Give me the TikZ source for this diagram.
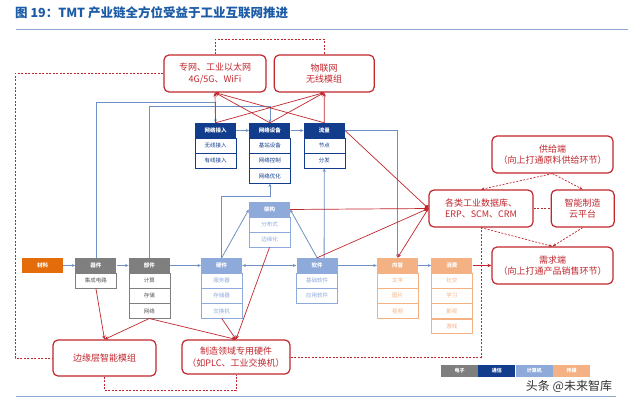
\documentclass[tikz,border=0pt]{standalone}
\usepackage{fontspec}
\setmainfont{Noto Sans CJK SC}
\usetikzlibrary{arrows.meta,positioning}
\definecolor{rd}{HTML}{C1272D}
\definecolor{nv}{HTML}{123C8C}
\definecolor{gy}{HTML}{7F7F7F}
\definecolor{lb}{HTML}{8EAADB}
\definecolor{lo}{HTML}{F4B183}
\definecolor{og}{HTML}{E46C0A}
\definecolor{ln}{HTML}{6F90C3}
\definecolor{tt}{HTML}{1C5BA6}
\definecolor{rl}{HTML}{8EA9D0}
\tikzset{
  hd/.style={minimum width=41pt,minimum height=15pt,inner sep=0pt,text=white,font=\fontsize{5.5}{6}\selectfont\bfseries},
  cel/.style={draw,fill=white,line width=0.6pt,minimum width=41pt,minimum height=14.5pt,inner sep=0pt,font=\fontsize{5.5}{6}\selectfont},
  gcel/.style={cel,draw=gy,text=gy!70!black},
  ncel/.style={cel,draw=nv,text=nv},
  bcel/.style={cel,draw=lb,text=lb},
  ocel/.style={cel,draw=lo,text=lo},
  rbox/.style={draw=rd,line width=1.2pt,rounded corners=5pt,fill=white,align=center,text=rd,inner sep=1pt,font=\fontsize{9}{11.5}\selectfont},
  ar/.style={-{Stealth[length=3.5pt,width=3pt]},draw=ln,line width=0.8pt},
  rar/.style={-{Stealth[length=4pt,width=3.5pt]},draw=rd,line width=0.7pt},
  rdot/.style={-{Circle[length=4.5pt]},draw=rd,line width=0.7pt},
  dsh/.style={draw=rd,dash pattern=on 2pt off 1.5pt,line width=0.7pt},
  lg/.style={minimum width=37pt,minimum height=12pt,inner sep=0pt,text=white,font=\fontsize{5}{6}\selectfont\bfseries},
}

\begin{document}
\begin{tikzpicture}[x=1pt,y=-1pt]
\fill[white] (0,0) rectangle (640,404);
\useasboundingbox (0,0) rectangle (640,404);
% title
\node[anchor=west,inner sep=0pt,text=tt,font=\fontsize{12.5}{14}\selectfont\bfseries] (ttl) at (15,13) {图 19：TMT 产业链全方位受益于工业互联网推进};
\draw[rl,line width=1pt] (16,29.5) -- (628,29.5);
\draw[rl,line width=1pt] (16,396) -- (616,396);

% main chain
\node[hd,fill=og] (cl) at (42.5,265.5) {材料};
\node[hd,fill=gy,right=12pt of cl] (qj) {器件};
\node[gcel,below=0pt of qj] (qj1) {集成电路};
\node[hd,fill=gy,right=12pt of qj] (bj) {部件};
\node[gcel,below=0pt of bj] (bj1) {计算};
\node[gcel,below=0pt of bj1] (bj2) {存储};
\node[gcel,below=0pt of bj2] (bj3) {网络};
\node[hd,fill=lb,right=31pt of bj] (yj) {硬件};
\node[bcel,below=0pt of yj] (yj1) {服务器};
\node[bcel,below=0pt of yj1] (yj2) {存储器};
\node[bcel,below=0pt of yj2] (yj3) {交换机};
\node[hd,fill=lb,right=54pt of yj] (rj) {软件};
\node[bcel,below=0pt of rj] (rj1) {基础软件};
\node[bcel,below=0pt of rj1] (rj2) {应用软件};
\node[hd,fill=lo,right=39pt of rj] (nr) {内容};
\node[ocel,below=0pt of nr] (nr1) {文字};
\node[ocel,below=0pt of nr1] (nr2) {图片};
\node[ocel,below=0pt of nr2] (nr3) {视频};
\node[hd,fill=lo,right=13pt of nr] (xf) {消费};
\node[ocel,below=0pt of xf] (xf1) {社交};
\node[ocel,below=0pt of xf1] (xf2) {学习};
\node[ocel,below=0pt of xf2] (xf3) {影视};
\node[ocel,below=0pt of xf3] (xf4) {游戏};

% network layer
\node[hd,fill=nv] (wljr) at (215.5,130.5) {网络接入};
\node[ncel,below=0pt of wljr] (wljr1) {无线接入};
\node[ncel,below=0pt of wljr1] (wljr2) {有线接入};
\node[hd,fill=nv,right=13pt of wljr] (wlsb) {网络设备};
\node[ncel,below=0pt of wlsb] (wlsb1) {基站设备};
\node[ncel,below=0pt of wlsb1] (wlsb2) {网络控制};
\node[ncel,below=0pt of wlsb2] (wlsb3) {网络优化};
\node[hd,fill=nv,right=13pt of wlsb] (ll) {流量};
\node[ncel,below=0pt of ll] (ll1) {节点};
\node[ncel,below=0pt of ll1] (ll2) {分发};
\node[hd,fill=lb] (jg) at (269.5,209.5) {架构};
\node[bcel,below=0pt of jg] (jg1) {分布式};
\node[bcel,below=0pt of jg1] (jg2) {边缘化};

% industrial internet boxes
\node[rbox,minimum width=102pt,minimum height=37pt] (zw) at (215,73.5) {专网、工业以太网\\4G/5G、WiFi};
\node[rbox,minimum width=100pt,minimum height=37pt,right=7pt of zw] (wl) {物联网\\无线模组};
\node[rbox,minimum width=104pt,minimum height=37pt] (db) at (481,208.5) {各类工业数据库、\\ERP、SCM、CRM};
\node[rbox,minimum width=63pt,minimum height=37pt,right=17pt of db] (yp) {智能制造\\云平台};
\node[rbox,minimum width=121pt,minimum height=37pt] (gj) at (552.5,154.5) {供给端\\（向上打通原料供给环节）};
\node[rbox,minimum width=121pt,minimum height=37pt] (xq) at (552.5,265.5) {需求端\\（向上打通产品销售环节）};
\node[rbox,minimum width=103pt,minimum height=36pt] (by) at (104.5,358) {边缘层智能模组};
\node[rbox,minimum width=108pt,minimum height=34pt] (zz) at (236,357) {制造领域专用硬件\\（如PLC、工业交换机）};

% legend
\node[lg,fill=gy] (lg1) at (459.5,371) {电子};
\node[lg,fill=nv,right=0pt of lg1] (lg2) {通信};
\node[lg,fill=lb,right=0pt of lg2] (lg3) {计算机};
\node[lg,fill=lo,right=0pt of lg3] (lg4) {传媒};
\node[text=black!80,inner sep=0pt,font=\fontsize{12}{12}\selectfont] (wm) at (569,386) {头条 @未来智库};

% blue links
\draw[ar] (cl) -- (qj);
\draw[ar] (qj) -- (bj);
\draw[ar] (bj) -- (yj);
\draw[ar,{Stealth[length=3.5pt,width=3pt]}-{Stealth[length=3.5pt,width=3pt]}] (yj) -- (rj);
\draw[ar] (rj) -- (nr);
\draw[ar] (nr) -- (xf);
\draw[ar] (wljr) -- (wlsb);
\draw[ar] (wlsb) -- (ll);
\draw[ar] (qj.north) |- ([yshift=20pt]wljr.north) -- (wljr.north);
\draw[ar] (bj.north) |- ([yshift=16pt]wlsb.north) -- (wlsb.north);
\draw[ar] (yj.north) |- ([yshift=-13pt]wlsb3.south) -- (wlsb3.south);
\draw[ar] (yj.north) -- (jg.west);
\draw[ar] (rj.north) -- (jg.east);
\draw[ar] ([xshift=7pt]rj.north) -- (ll2.south);
\draw[ar] (ll.east) -| (nr.north);

% red links
\foreach \n in {wljr,wlsb,ll}{
  \draw[rar] (\n.north) -- (zw.south);
  \draw[rar] (\n.north) -- (wl.south);
}
\draw[rdot] (ll.east) -- (db.west);
\draw[rdot] (jg.east) -- (db.west);
\draw[rdot] (rj.north) -- (db.west);
\draw[rar] (db.west) -- (nr.north);
\draw[rar] (xf.east) -- (xq.west);
\draw[rar] (qj1.south) -- (by.north);
\draw[rar] (bj3.south) -- (by.north);
\draw[rar] (bj3.south) -- (zz.north);
\draw[rar] (yj3.south) -- (zz.north);
\draw[rar] (jg2.south) -- (zz.north);

% dashed links
\draw[dsh] (zw.north) -- ++(0,-15) -| (wl.north);
\draw[dsh] (zw.west) -| ([xshift=-37pt]by.west) -- (by.west);
\draw[dsh] (by.south) -- ++(0,14) -| (zz.south);
\draw[dsh] (zz.east) -| (db.south);
\draw[dsh,-{Stealth[length=3.5pt]}] (gj.south) -- (db.north);
\draw[dsh,-{Stealth[length=3.5pt]}] (gj.south) -- (yp.north);
\draw[dsh] (db.east) -- (yp.west);
\draw[dsh,-{Stealth[length=3.5pt]}] (yp.south) -- (xq.north);
\draw[dsh,-{Stealth[length=3.5pt]}] (db.south) -- (xq.north);
\end{tikzpicture}
\end{document}
